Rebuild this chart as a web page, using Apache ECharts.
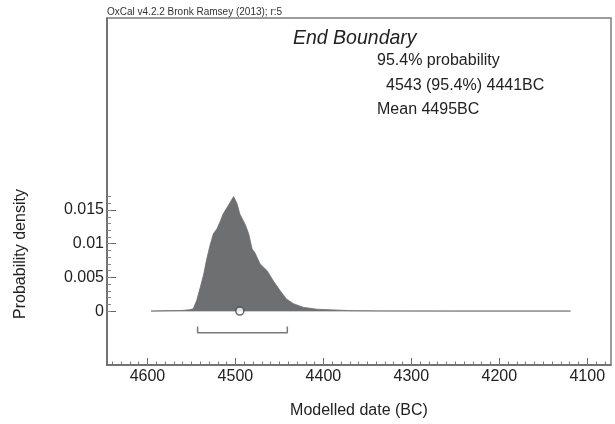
<!DOCTYPE html>
<html>
<head>
<meta charset="utf-8">
<script src="https://cdn.jsdelivr.net/npm/echarts@6/dist/echarts.min.js"></script>
<style>
  html, body { margin: 0; padding: 0; background: #fff; }
  #chart { width: 615px; height: 424px; }
</style>
</head>
<body>
<div id="chart"></div>
<script>
// modelled date (BC) and probability density
var years = [4596, 4580, 4560, 4552, 4548, 4544, 4540, 4536, 4533, 4529, 4525, 4521, 4517, 4514, 4508, 4502,
  4498, 4495, 4489, 4485, 4481, 4478, 4472, 4464, 4457, 4449, 4442, 4434, 4423, 4407, 4389, 4370, 4340, 4300,
  4250, 4200, 4150, 4119];
var density = [0, 0.00005, 0.0001, 0.0002, 0.00033, 0.0016, 0.0035, 0.0055, 0.0075, 0.0097, 0.0115, 0.0122,
  0.0134, 0.0144, 0.0157, 0.0170, 0.0159, 0.0144, 0.0129, 0.0115, 0.0092, 0.0087, 0.0070, 0.0060, 0.0045,
  0.0030, 0.0018, 0.0011, 0.00056, 0.00027, 0.00018, 0.00007, 0.00003, 0.00001, 0, 0, 0, 0];

var baselineYears = [4596, 4119];
var meanYear = 4495;
var rangeFrom = 4543;
var rangeTo = 4441;

var xTickLabels = [4600, 4500, 4400, 4300, 4200, 4100];
var yTickLabels = [0, 0.005, 0.01, 0.015];

var xMinor = [];
for (var t = 4640; t >= 4080; t -= 10) xMinor.push(t);
var yMinor = [];
for (var k = 0; k <= 17; k++) yMinor.push(+(k * 0.001).toFixed(3));

var curve = years.map(function (y, i) { return [y, density[i]]; });
var baseline = baselineYears.map(function (y) { return [y, 0]; });
var bracket = [[rangeFrom, -0.0023], [rangeFrom, -0.0032], [rangeTo, -0.0032], [rangeTo, -0.0023]];

var font = 'Liberation Sans, Arial, sans-serif';
var myChart = echarts.init(document.getElementById('chart'));

var option = {
  backgroundColor: '#fff',
  animation: false,
  textStyle: { fontFamily: font },
  grid: {
    left: 107, top: 18, right: 4, bottom: 59,
    outerBoundsMode: 'none', containLabel: false,
    show: true, borderColor: '#7d7d7d', borderWidth: 1.5
  },
  xAxis: [
    {
      type: 'value', min: 4073, max: 4646, inverse: true,
      name: 'Modelled date (BC)', nameLocation: 'middle', nameGap: 38,
      nameTextStyle: { fontSize: 16, color: '#222', fontFamily: font },
      axisLine: { show: true, onZero: false, lineStyle: { color: '#666', width: 1.5 } },
      axisTick: { show: true, inside: true, length: 7, lineStyle: { color: '#666' }, customValues: xTickLabels },
      axisLabel: { customValues: xTickLabels, fontSize: 16, color: '#222', margin: 4, fontFamily: font,
        formatter: function (v) { return String(v); } },
      splitLine: { show: false }
    },
    {
      type: 'value', min: 4073, max: 4646, inverse: true, position: 'bottom',
      axisLine: { show: false, onZero: false },
      axisTick: { show: true, inside: true, length: 3.5, lineStyle: { color: '#777' }, customValues: xMinor },
      axisLabel: { show: false },
      splitLine: { show: false }
    }
  ],
  yAxis: [
    {
      type: 'value', min: -0.008, max: 0.0435,
      axisLine: { show: true, onZero: false, lineStyle: { color: '#666', width: 1.5 } },
      axisTick: { show: true, inside: true, length: 9, lineStyle: { color: '#666' }, customValues: yTickLabels },
      axisLabel: { customValues: yTickLabels, fontSize: 16, color: '#222', margin: 3, fontFamily: font,
        formatter: function (v) { return String(v); } },
      splitLine: { show: false }
    },
    {
      type: 'value', min: -0.008, max: 0.0435, position: 'left',
      axisLine: { show: false, onZero: false },
      axisTick: { show: true, inside: true, length: 4, lineStyle: { color: '#888' }, customValues: yMinor },
      axisLabel: { show: false },
      splitLine: { show: false }
    }
  ],
  series: [
    {
      type: 'line', data: baseline, symbol: 'none', z: 1,
      lineStyle: { color: '#bdbdbd', width: 1.5 }
    },
    {
      type: 'line', data: curve, symbol: 'none', z: 2,
      lineStyle: { color: '#6e6f71', width: 0.8 },
      areaStyle: { color: '#6e6f71', opacity: 1 }
    },
    {
      type: 'line', data: bracket, symbol: 'none', z: 3,
      lineStyle: { color: '#7a7a7a', width: 1.5 }
    },
    {
      type: 'scatter', data: [[meanYear, 0]], symbol: 'circle', symbolSize: 8, z: 4,
      itemStyle: { color: '#fff', borderColor: '#444', borderWidth: 1.5 }
    }
  ],
  graphic: [
    { type: 'text', x: 107, y: 12, style: { text: 'OxCal v4.2.2 Bronk Ramsey (2013); r:5',
      font: '10px ' + font, fill: '#333', verticalAlign: 'middle' } },
    { type: 'text', x: 293, y: 39, style: { text: 'End Boundary',
      font: 'italic 19.5px ' + font, fill: '#222', verticalAlign: 'middle' } },
    { type: 'text', x: 377, y: 61, style: { text: '95.4% probability',
      font: '16px ' + font, fill: '#222', verticalAlign: 'middle' } },
    { type: 'text', x: 386, y: 85.5, style: { text: '4543 (95.4%) 4441BC',
      font: '16px ' + font, fill: '#222', verticalAlign: 'middle' } },
    { type: 'text', x: 377, y: 110, style: { text: 'Mean 4495BC',
      font: '16px ' + font, fill: '#222', verticalAlign: 'middle' } },
    { type: 'text', x: 21, y: 254, rotation: Math.PI / 2,
      style: { text: 'Probability density', font: '16px ' + font, fill: '#222',
        align: 'center', verticalAlign: 'middle' } }
  ]
};

myChart.setOption(option);
</script>
</body>
</html>
